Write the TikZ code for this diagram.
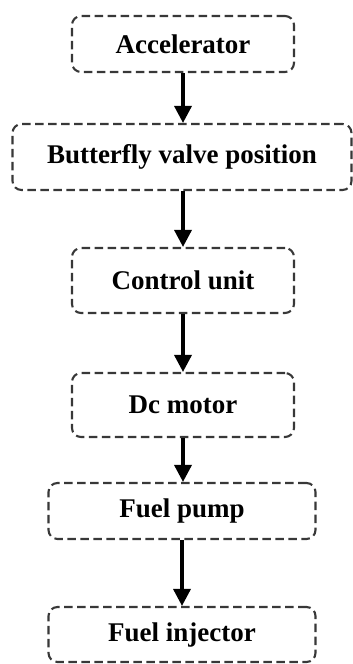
\documentclass[tikz,border=0pt]{standalone}
\usepackage{fontspec}
\setmainfont{Liberation Serif}
\usetikzlibrary{arrows.meta}
\begin{document}
\begin{tikzpicture}[x=1pt,y=-1pt,
  stepbox/.style={draw=black!78, line width=2.1pt, dash pattern=on 8.5pt off 4.5pt,
    rounded corners=9pt, inner sep=0pt, font=\fontsize{27}{31}\selectfont\bfseries},
  flow/.style={line width=3.4pt, -{Triangle[length=17pt,width=17pt]}}]
\useasboundingbox (0,0) rectangle (353,664);
\node[stepbox, minimum width=222pt, minimum height=56pt] (acc) at (183,44) {Accelerator};
\node[stepbox, minimum width=339pt, minimum height=66pt] (bvp) at (182,157) {Butterfly valve position};
\node[stepbox, minimum width=222pt, minimum height=65pt] (cu) at (183,280.5) {Control unit};
\node[stepbox, minimum width=222pt, minimum height=64pt] (dc) at (183,405) {Dc motor};
\node[stepbox, minimum width=267pt, minimum height=56pt] (fp) at (182,511) {Fuel pump};
\node[stepbox, minimum width=267pt, minimum height=55pt] (fi) at (182,634.5) {Fuel injector};
\draw[flow] (acc.south) -- (acc.south |- bvp.north);
\draw[flow] (bvp.south -| cu.north) -- (cu.north);
\draw[flow] (cu.south) -- (dc.north);
\draw[flow] (dc.south) -- (dc.south |- fp.north);
\draw[flow] (fp.south) -- (fi.north);
\end{tikzpicture}
\end{document}
